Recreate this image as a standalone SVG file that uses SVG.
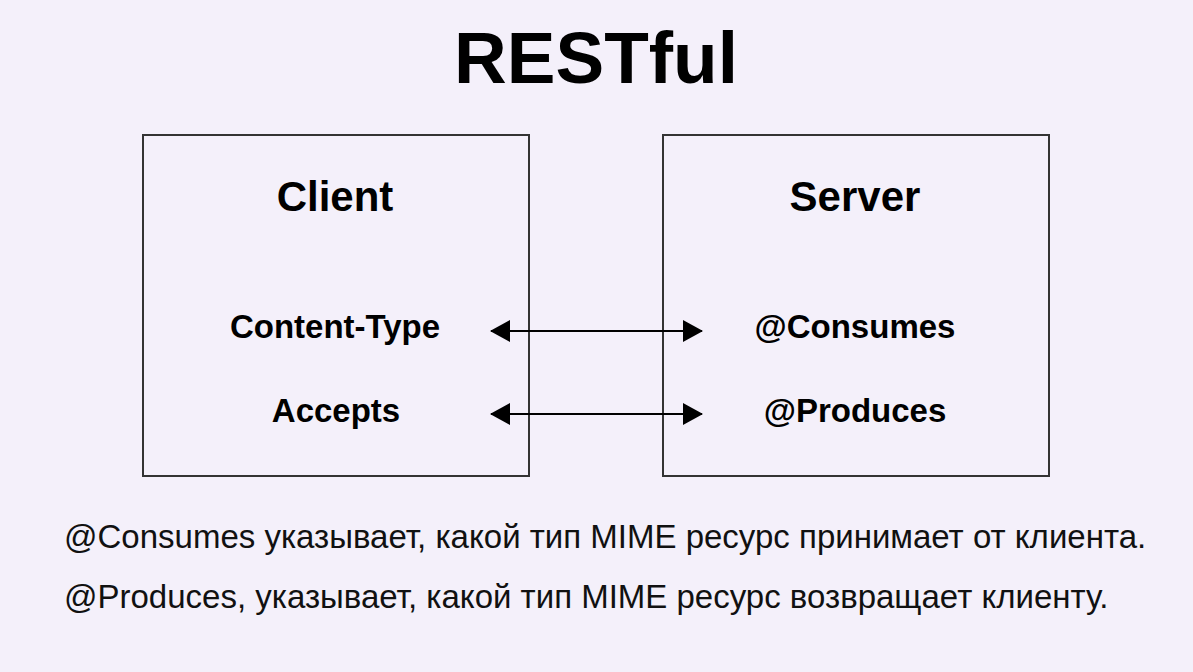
<svg xmlns="http://www.w3.org/2000/svg" width="1193" height="672" viewBox="0 0 1193 672">
<defs>
<style>
.bg{fill:#F4F0FA}
.box{fill:none;stroke:#333;stroke-width:2}
.t{font-family:"Liberation Sans",Arial,sans-serif;fill:#000;text-anchor:middle}
.title{font-size:73px;font-weight:bold}
.head{font-size:42px;font-weight:bold}
.item{font-size:33px;font-weight:bold}
.note{font-family:"Liberation Sans",Arial,sans-serif;fill:#111;font-size:33px}
.conn{stroke:#000;stroke-width:2;fill:none}
</style>
<marker id="ah" viewBox="0 0 20 22" refX="19" refY="11" markerWidth="20" markerHeight="22" markerUnits="userSpaceOnUse" orient="auto-start-reverse">
<path d="M0,0 L20,11 L0,22 Z" fill="#000"/>
</marker>
</defs>
<rect class="bg" x="0" y="0" width="1193" height="672"/>
<text class="t title" x="596" y="83">RESTful</text>
<g id="client">
<rect class="box" x="143" y="135" width="386" height="341"/>
<text class="t head" x="335" y="211">Client</text>
<text class="t item" x="335" y="338">Content-Type</text>
<text class="t item" x="336" y="422">Accepts</text>
</g>
<g id="server">
<rect class="box" x="663" y="135" width="386" height="341"/>
<text class="t head" x="855" y="211">Server</text>
<text class="t item" x="855" y="338">@Consumes</text>
<text class="t item" x="855" y="422">@Produces</text>
</g>
<g id="connectors">
<line class="conn" x1="491" y1="331" x2="702" y2="331" marker-start="url(#ah)" marker-end="url(#ah)"/>
<line class="conn" x1="491" y1="414" x2="702" y2="414" marker-start="url(#ah)" marker-end="url(#ah)"/>
</g>
<g id="notes">
<text class="note" x="64" y="548">@Consumes указывает, какой тип MIME ресурс принимает от клиента.</text>
<text class="note" x="64" y="608">@Produces, указывает, какой тип MIME ресурс возвращает клиенту.</text>
</g>
</svg>
